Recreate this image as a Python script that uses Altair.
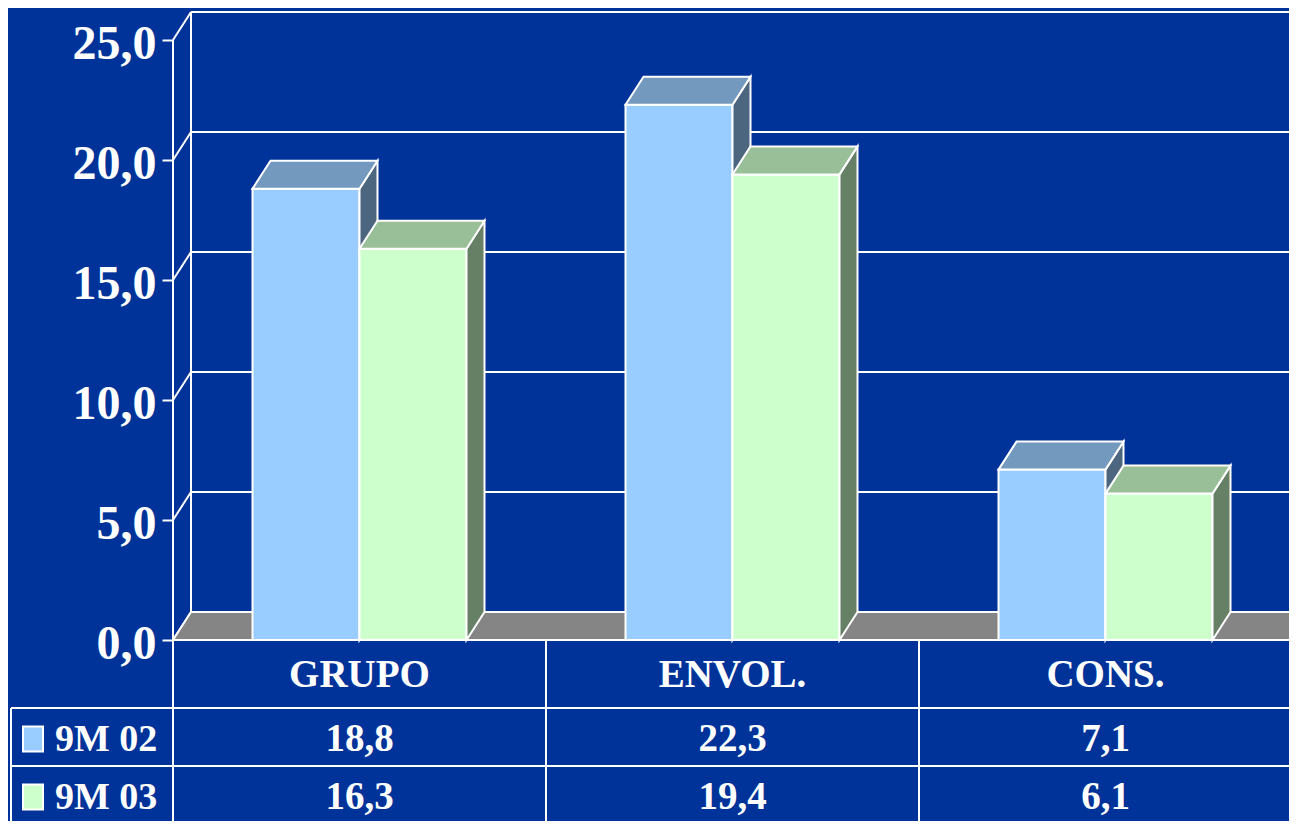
import altair as alt
import pandas as pd

# ---------------- data ----------------
categories = ["GRUPO", "ENVOL.", "CONS."]
series = ["9M 02", "9M 03"]
values_02 = [18.8, 22.3, 7.1]
values_03 = [16.3, 19.4, 6.1]
value_labels_02 = ["18,8", "22,3", "7,1"]
value_labels_03 = ["16,3", "19,4", "6,1"]
y_ticks = [0, 5, 10, 15, 20, 25]

front_colors = ["#99CCFF", "#CCFFCC"]
top_colors = ["#7399BF", "#99BF99"]
side_colors = ["#4D6680", "#668066"]
BG = "#003399"
FLOOR = "#858585"
FONT = "Liberation Serif"

# ---------------- geometry (pixel-based constants) ----------------
PX_X = 373.0          # pixels per category band
PX_Y = 24.0           # pixels per value unit
W, H = 1116, 809
DX = 18 / PX_X        # 3D depth, horizontal
DY = 28 / PX_Y        # 3D depth, vertical
BAR_W = 107 / PX_X
YMAX = 25 + DY
YMIN = YMAX - H / PX_Y
XMAX = W / PX_X
NCAT = len(categories)
XR = NCAT              # right edge of the floor / table

# table layout (pixels below the baseline)
HEADER_H = 68
ROW_H = 58
HEADER_BASE = 47
ROW_BASE = 43
row1_top = -HEADER_H / PX_Y
row2_top = -(HEADER_H + ROW_H) / PX_Y
LEFT = (11 - 173) / PX_X

xscale = alt.Scale(domain=[0, XMAX], nice=False, zero=False)
yscale = alt.Scale(domain=[YMIN, YMAX], nice=False, zero=False)
yaxis = alt.Axis(
    values=y_ticks, grid=False, domain=False, title=None,
    labelExpr="replace(format(datum.value, '.1f'), '.', ',')",
    tickSize=11, tickWidth=2, tickColor="white",
    labelFont=FONT, labelFontWeight="bold", labelFontSize=48,
    labelColor="white", labelPadding=6, labelOffset=4,
)


def X(f):
    return alt.X(f"{f}:Q", scale=xscale, axis=None)


def Y(f):
    return alt.Y(f"{f}:Q", scale=yscale, axis=yaxis)


def rules(rows, width=2):
    df = pd.DataFrame(rows, columns=["x", "x2", "y", "y2"])
    return alt.Chart(df).mark_rule(color="white", strokeWidth=width).encode(
        x=X("x"), x2="x2", y=Y("y"), y2="y2"
    )


# walls
wall_rows = []
for t in y_ticks:
    wall_rows.append([DX, XR + DX, t + DY, t + DY])   # back wall grid
    wall_rows.append([0, DX, t, t + DY])              # side wall diagonals
wall_rows.append([DX, DX, DY, 25 + DY])               # back wall left edge
wall_rows.append([0, 0, YMIN, 25])                    # front axis line
walls = rules(wall_rows)

# floor
floor_df = pd.DataFrame({"y": [0, DY], "x": [0, DX], "x2": [XR, XR + DX]})
floor = alt.Chart(floor_df).mark_area(
    orient="horizontal", fill=FLOOR, stroke="white", strokeWidth=2
).encode(y=Y("y"), x=X("x"), x2="x2")

# bars
series_vals = [values_02, values_03]
bar_layers = []
for s, vals in enumerate(series_vals):
    fr, sd, tp = [], [], []
    for i, v in enumerate(vals):
        x0 = i + 0.5 - BAR_W + s * BAR_W
        x1 = x0 + BAR_W
        bid = f"{categories[i]}-{s}"
        fr.append({"x": x0, "x2": x1, "y": 0, "y2": v})
        sd.append({"id": bid, "x": x1, "y": v, "y2": 0})
        sd.append({"id": bid, "x": x1 + DX, "y": v + DY, "y2": DY})
        tp.append({"id": bid, "y": v, "x": x0, "x2": x1})
        tp.append({"id": bid, "y": v + DY, "x": x0 + DX, "x2": x1 + DX})
    front = alt.Chart(pd.DataFrame(fr)).mark_rect(
        fill=front_colors[s], stroke="white", strokeWidth=2
    ).encode(x=X("x"), x2="x2", y=Y("y"), y2="y2")
    side = alt.Chart(pd.DataFrame(sd)).mark_area(
        orient="vertical", fill=side_colors[s], stroke="white", strokeWidth=2
    ).encode(x=X("x"), y=Y("y"), y2="y2", detail="id:N")
    top = alt.Chart(pd.DataFrame(tp)).mark_area(
        orient="horizontal", fill=top_colors[s], stroke="white", strokeWidth=2
    ).encode(y=Y("y"), x=X("x"), x2="x2", detail="id:N")
    bar_layers += [front, side, top]

# table lines
tab_rows = [
    [0, XR, 0, 0],
    [LEFT, XR, row1_top, row1_top],
    [LEFT, XR, row2_top, row2_top],
    [LEFT, LEFT, row1_top, YMIN],
]
for k in range(1, NCAT + 1):
    tab_rows.append([k, k, 0, YMIN])
table_lines = rules(tab_rows)

# table texts
txt = []
for i, c in enumerate(categories):
    txt.append({"x": i + 0.5, "y": -HEADER_BASE / PX_Y, "t": c})
    txt.append({"x": i + 0.5, "y": row1_top - ROW_BASE / PX_Y, "t": value_labels_02[i]})
    txt.append({"x": i + 0.5, "y": row2_top - ROW_BASE / PX_Y, "t": value_labels_03[i]})
table_text = alt.Chart(pd.DataFrame(txt)).mark_text(
    font=FONT, fontWeight="bold", fontSize=39, color="white",
    align="center", baseline="alphabetic"
).encode(x=X("x"), y=Y("y"), text="t:N")

# legend in table
leg_txt = pd.DataFrame({
    "x": [(55 - 173) / PX_X] * 2,
    "y": [row1_top - ROW_BASE / PX_Y, row2_top - ROW_BASE / PX_Y],
    "t": series,
})
legend_text = alt.Chart(leg_txt).mark_text(
    font=FONT, fontWeight="bold", fontSize=38, color="white",
    align="left", baseline="alphabetic"
).encode(x=X("x"), y=Y("y"), text="t:N")

sw_layers = []
for s in range(len(series)):
    yc = (row1_top if s == 0 else row2_top) - (ROW_BASE - 12) / PX_Y
    sw = pd.DataFrame({"x": [(33 - 173) / PX_X], "y": [yc]})
    sw_layers.append(
        alt.Chart(sw).mark_rect(
            width=20, height=25, fill=front_colors[s], stroke="white", strokeWidth=2
        ).encode(x=X("x"), y=Y("y"))
    )

chart = alt.layer(
    walls, floor, *bar_layers, table_lines, table_text, legend_text, *sw_layers
).properties(
    width=W, height=H,
    padding={"left": 165, "top": 4, "right": 0, "bottom": 0},
    autosize=alt.AutoSizeParams(type="none"),
    background=BG,
).configure_view(stroke=None)

chart.save("out.html", embed_options={"renderer": "svg", "actions": False})
